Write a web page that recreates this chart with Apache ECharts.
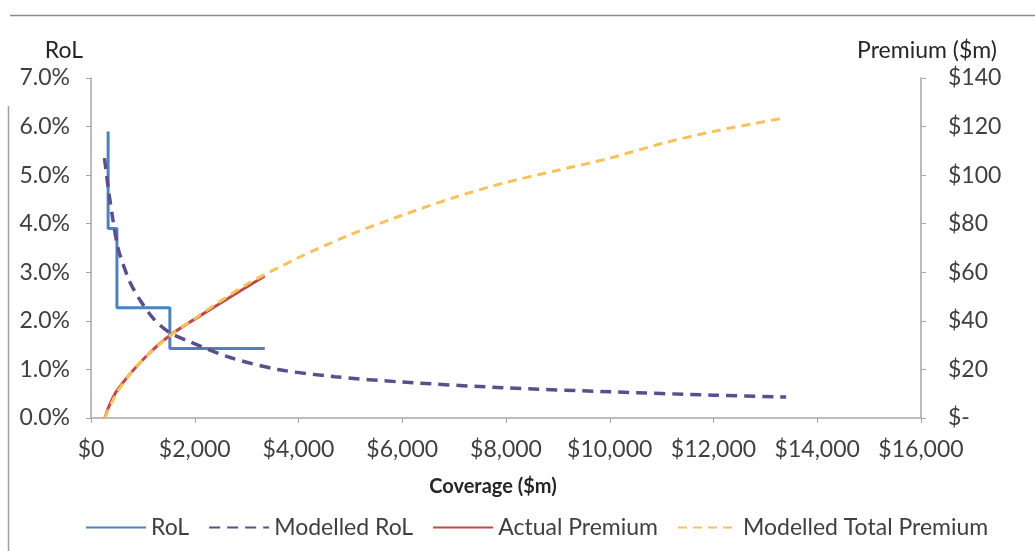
<!DOCTYPE html>
<html>
<head>
<meta charset="utf-8">
<script src="https://cdn.jsdelivr.net/npm/echarts@6/dist/echarts.min.js"></script>
<style>
html,body{margin:0;padding:0;background:#fff;}
#chart{width:1035px;height:551px;}
</style>
</head>
<body>
<div id="chart"></div>
<script>
// Coverage ($m) on x axis
var xTicks = [0, 2000, 4000, 6000, 8000, 10000, 12000, 14000, 16000];
var leftTicks = [0, 1, 2, 3, 4, 5, 6, 7];          // RoL %
var rightTicks = [0, 20, 40, 60, 80, 100, 120, 140]; // Premium $m

// RoL (step)
var rolCoverage = [330, 500, 1520, 3350];
var rolValues   = [5.9, 3.9, 2.27, 1.43];

// Modelled RoL
var modRolCoverage = [260, 330, 370, 420, 500, 560, 750, 950, 1200, 1500, 1900, 2700, 3600, 4700, 6000, 8000, 10000, 12000, 13400];
var modRolValues   = [5.35, 4.75, 4.45, 4.1, 3.6, 3.35, 2.8, 2.42, 2.05, 1.77, 1.57, 1.24, 1.0, 0.85, 0.74, 0.62, 0.54, 0.47, 0.43];

// Actual Premium
var actPremCoverage = [270, 330, 500, 1000, 1520, 2400, 3350];
var actPremValues   = [0, 4, 11.3, 24, 34, 46, 58.5];

// Modelled Total Premium
var modPremCoverage = [270, 330, 400, 500, 750, 1000, 1500, 2000, 3000, 4000, 5000, 6000, 7000, 8000, 9000, 10000, 11000, 12000, 13300];
var modPremValues   = [0, 3.2, 6.3, 10.5, 18, 24, 33.5, 41, 55, 66, 75.5, 83.5, 90.8, 97, 102, 107, 113, 118, 123.3];

function pairs(xs, ys){ return xs.map(function(x,i){ return [x, ys[i]]; }); }

var FONT = 'Lato';
var TXT = '#404040';
var AXIS = '#A6A6A6';
var FS = 23;

var chart = echarts.init(document.getElementById('chart'), null, {renderer:'canvas'});
chart.setOption({
  animation: false,
  backgroundColor: '#ffffff',
  textStyle: {fontFamily: FONT},
  grid: {left: 91, right: 114, top: 78, bottom: 133, containLabel: false},
  graphic: [
    {type:'line', shape:{x1:10, y1:15.5, x2:1035, y2:15.5}, style:{stroke:'#8C8C8C', lineWidth:1.5}},
    {type:'line', shape:{x1:8.5, y1:106, x2:8.5, y2:551}, style:{stroke:'#A0A0A0', lineWidth:1.5}}
  ],
  legend: {
    left: 80, top: 511,
    itemWidth: 60, itemHeight: 12, itemGap: 19,
    itemStyle: {opacity: 0},
    textStyle: {fontFamily: FONT, fontSize: 23, color: TXT},
    data: ['RoL', 'Modelled RoL', 'Actual Premium', 'Modelled Total Premium']
  },
  xAxis: {
    type: 'value', min: 0, max: 16000, interval: 2000,
    name: 'Coverage ($m)', nameLocation: 'middle', nameGap: 59,
    nameTextStyle: {fontFamily: FONT, fontSize: 20, fontWeight: 'bold', color: '#262626', padding: [0, 26, 0, 0]},
    axisLine: {show: true, lineStyle: {color: AXIS, width: 1.5}},
    axisTick: {show: true, inside: false, length: 5, lineStyle: {color: AXIS}},
    splitLine: {show: false},
    axisLabel: {margin: 20, fontFamily: FONT, fontSize: FS, color: TXT,
      formatter: function(v){ return '$' + v.toLocaleString('en-US'); }}
  },
  yAxis: [
    {
      type: 'value', min: 0, max: 7, interval: 1, position: 'left',
      name: 'RoL', nameLocation: 'end', nameGap: 16,
      nameTextStyle: {fontFamily: FONT, fontSize: FS, color: '#262626', align: 'right', padding: [0, 8, 0, 0]},
      axisLine: {show: true, lineStyle: {color: AXIS, width: 1.5}},
      axisTick: {show: true, inside: false, length: 5, lineStyle: {color: AXIS}},
      splitLine: {show: false},
      axisLabel: {margin: 21, fontFamily: FONT, fontSize: FS, color: TXT,
        formatter: function(v){ return v.toFixed(1) + '%'; }}
    },
    {
      type: 'value', min: 0, max: 140, interval: 20, position: 'right',
      name: 'Premium ($m)', nameLocation: 'end', nameGap: 16,
      nameTextStyle: {fontFamily: FONT, fontSize: FS, color: '#262626', align: 'center', padding: [0, 0, 0, 12]},
      axisLine: {show: true, lineStyle: {color: AXIS, width: 1.5}},
      axisTick: {show: true, inside: false, length: 5, lineStyle: {color: AXIS}},
      splitLine: {show: false},
      axisLabel: {margin: 27, fontFamily: FONT, fontSize: FS, color: TXT,
        formatter: function(v){ return v === 0 ? '$-' : '$' + v; }}
    }
  ],
  series: [
    {
      name: 'RoL', type: 'line', yAxisIndex: 0, step: 'start',
      symbol: 'none', data: pairs(rolCoverage, rolValues),
      lineStyle: {color: '#4F81BD', width: 3},
      itemStyle: {color: '#4F81BD'}
    },
    {
      name: 'Modelled RoL', type: 'line', yAxisIndex: 0, smooth: 0.3,
      symbol: 'none', data: pairs(modRolCoverage, modRolValues),
      lineStyle: {color: '#5E4D8C', width: 3.5, type: [11, 7]},
      itemStyle: {color: '#5E4D8C'}
    },
    {
      name: 'Actual Premium', type: 'line', yAxisIndex: 1, smooth: 0.3,
      symbol: 'none', data: pairs(actPremCoverage, actPremValues),
      lineStyle: {color: '#BE4B48', width: 3},
      itemStyle: {color: '#BE4B48'}
    },
    {
      name: 'Modelled Total Premium', type: 'line', yAxisIndex: 1, smooth: 0.3,
      symbol: 'none', data: pairs(modPremCoverage, modPremValues),
      lineStyle: {color: '#F7C25C', width: 3, type: [9, 6]},
      itemStyle: {color: '#F7C25C'}
    }
  ]
});
</script>
</body>
</html>
